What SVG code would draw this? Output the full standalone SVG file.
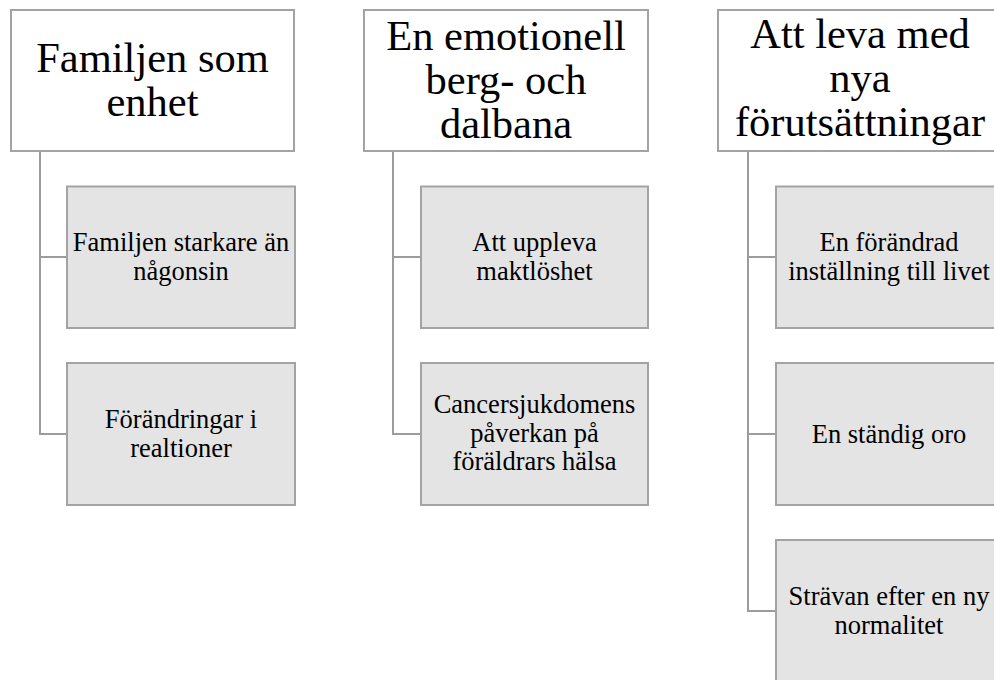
<svg xmlns="http://www.w3.org/2000/svg" width="994" height="680" viewBox="0 0 994 680">
<style>
.top{fill:#ffffff;stroke:#a3a3a3;stroke-width:2}
.child{fill:#e4e4e4;stroke:#a3a3a3;stroke-width:2}
.conn{fill:none;stroke:#9c9c9c;stroke-width:2}
.tt{font-family:"Liberation Serif","Times New Roman",serif;font-size:42.5px;fill:#000;text-anchor:middle}
.ct{font-family:"Liberation Serif","Times New Roman",serif;font-size:26.5px;fill:#000;text-anchor:middle}
</style>
<rect width="994" height="680" fill="#ffffff"/>
<g id="connectors">
<path class="conn" d="M40,151 V434 H67 M40,257 H67"/>
<path class="conn" d="M393,151 V434 H421 M393,257 H421"/>
<path class="conn" d="M748,151 V611 H776 M748,257 H776 M748,434 H776"/>
</g>
<g id="n1">
<rect class="top" x="11" y="10" width="283" height="141"/>
<text class="tt" x="152.5" y="72">Familjen som</text>
<text class="tt" x="152.5" y="116">enhet</text>
</g>
<g id="n1a">
<rect class="child" x="67" y="186.5" width="228" height="141.5"/>
<text class="ct" x="181" y="251">Familjen starkare än</text>
<text class="ct" x="181" y="279.5">någonsin</text>
</g>
<g id="n1b">
<rect class="child" x="67" y="363" width="228" height="142"/>
<text class="ct" x="181" y="428">Förändringar i</text>
<text class="ct" x="181" y="456.5">realtioner</text>
</g>
<g id="n2">
<rect class="top" x="364" y="10" width="284" height="141"/>
<text class="tt" x="506" y="50">En emotionell</text>
<text class="tt" x="506" y="94">berg- och</text>
<text class="tt" x="506" y="138">dalbana</text>
</g>
<g id="n2a">
<rect class="child" x="421" y="186.5" width="227" height="141.5"/>
<text class="ct" x="534.5" y="251">Att uppleva</text>
<text class="ct" x="534.5" y="279.5">maktlöshet</text>
</g>
<g id="n2b">
<rect class="child" x="421" y="363" width="227" height="142"/>
<text class="ct" x="534.5" y="413">Cancersjukdomens</text>
<text class="ct" x="534.5" y="441.5">påverkan på</text>
<text class="ct" x="534.5" y="470">föräldrars hälsa</text>
</g>
<g id="n3">
<rect class="top" x="718" y="10" width="284" height="141"/>
<text class="tt" x="860" y="48">Att leva med</text>
<text class="tt" x="860" y="92">nya</text>
<text class="tt" x="860" y="136">förutsättningar</text>
</g>
<g id="n3a">
<rect class="child" x="776" y="186.5" width="228" height="141.5"/>
<text class="ct" x="889" y="251">En förändrad</text>
<text class="ct" x="889" y="279.5">inställning till livet</text>
</g>
<g id="n3b">
<rect class="child" x="776" y="363" width="228" height="142"/>
<text class="ct" x="889" y="443">En ständig oro</text>
</g>
<g id="n3c">
<rect class="child" x="776" y="540" width="228" height="142"/>
<text class="ct" x="889" y="605">Strävan efter en ny</text>
<text class="ct" x="889" y="633.5">normalitet</text>
</g>
</svg>
